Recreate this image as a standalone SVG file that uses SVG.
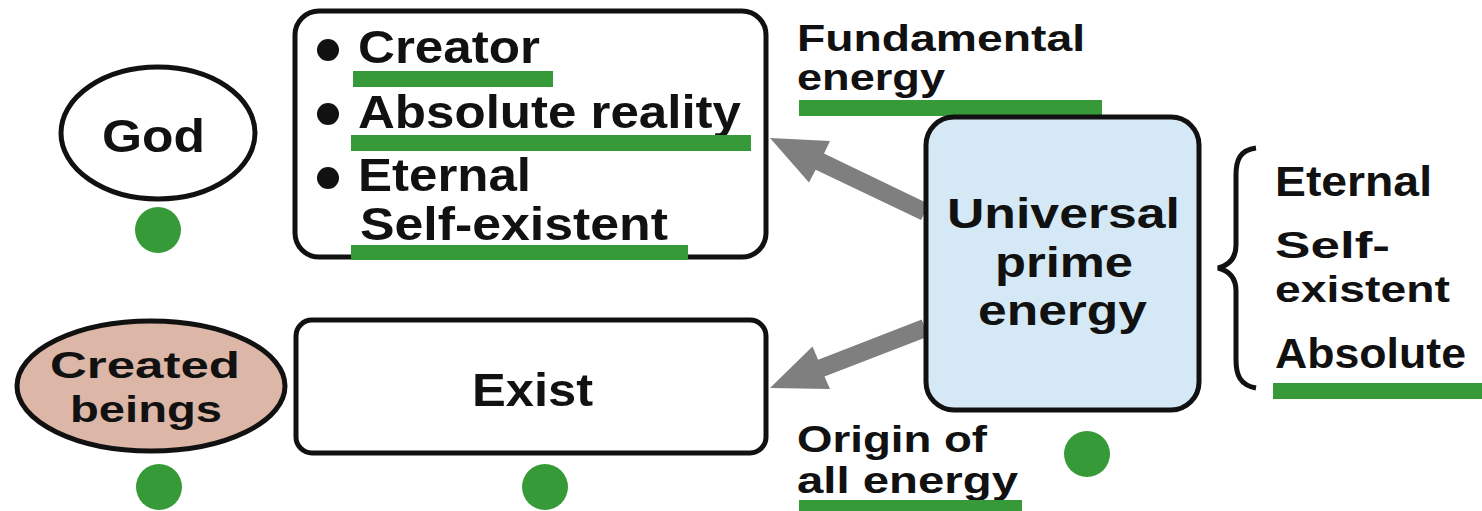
<svg xmlns="http://www.w3.org/2000/svg" width="1482" height="511" viewBox="0 0 1482 511">
<style>
text{font-family:"Liberation Sans",Arial,sans-serif;font-weight:bold;fill:#111;}
.t{font-size:46px;}
.m{font-size:43px;}
.s{font-size:37px;}
.outline{stroke:#111;stroke-width:5;}
.ul{fill:#359a37;}
.dot{fill:#359a37;}
.arrow{fill:#7f7f7f;}
</style>
<rect width="1482" height="511" fill="#fff"/>
<g id="connectors">
<polygon class="arrow" points="770,138 830,141 824,153.6 928.9,203.9 921.1,220.1 815.7,169.8 809,182.5"/>
<polygon class="arrow" points="770,388 812.5,346.5 818.1,359.7 921.8,319.6 928.2,336.4 824.5,376.5 830,389"/>
</g>
<g id="god">
<ellipse class="outline" cx="158" cy="133" rx="97" ry="66" fill="#fff"/>
<text class="t" x="102" y="152" textLength="103" lengthAdjust="spacingAndGlyphs">God</text>
<circle class="dot" cx="158" cy="230" r="23"/>
</g>
<g id="attributes">
<rect class="outline" x="295" y="11" width="471" height="246" rx="24" fill="#fff"/>
<circle cx="328" cy="50" r="11" fill="#111"/>
<circle cx="328" cy="114" r="11" fill="#111"/>
<circle cx="328" cy="178" r="11" fill="#111"/>
<text class="t" x="358" y="63" textLength="182" lengthAdjust="spacingAndGlyphs">Creator</text>
<rect class="ul" x="353" y="71" width="200" height="16"/>
<text class="t" x="358" y="128" textLength="383" lengthAdjust="spacingAndGlyphs">Absolute reality</text>
<rect class="ul" x="351" y="135" width="400" height="16"/>
<text class="t" x="358" y="191" textLength="173" lengthAdjust="spacingAndGlyphs" font-size="44">Eternal</text>
<text class="t" x="360" y="240" textLength="308" lengthAdjust="spacingAndGlyphs" font-size="44">Self-existent</text>
<rect class="ul" x="351" y="245" width="337" height="15"/>
</g>
<g id="fundamental">
<text class="s" x="797" y="51" textLength="288" lengthAdjust="spacingAndGlyphs" font-size="35">Fundamental</text>
<text class="s" x="797" y="90" textLength="148" lengthAdjust="spacingAndGlyphs" font-size="35">energy</text>
<rect class="ul" x="799" y="100" width="303" height="16"/>
</g>
<g id="universal">
<rect class="outline" x="926" y="117" width="273" height="293" rx="28" fill="#d4e9f5"/>
<text class="m" x="947" y="228" textLength="233" lengthAdjust="spacingAndGlyphs">Universal</text>
<text class="m" x="995" y="277" textLength="138" lengthAdjust="spacingAndGlyphs">prime</text>
<text class="m" x="978" y="325" textLength="169" lengthAdjust="spacingAndGlyphs">energy</text>
<circle class="dot" cx="1087" cy="454" r="23"/>
</g>
<g id="properties">
<path d="M1256,148 C1240,150 1236,160 1236,175 L1236,245 C1236,258 1230,265 1218,268 C1230,271 1236,278 1236,291 L1236,360 C1236,375 1240,385 1256,388" fill="none" stroke="#111" stroke-width="5"/>
<text class="m" x="1275" y="196" textLength="157" lengthAdjust="spacingAndGlyphs">Eternal</text>
<text class="s" x="1275" y="258" textLength="115" lengthAdjust="spacingAndGlyphs" font-size="38">Self-</text>
<text class="s" x="1275" y="302" textLength="175" lengthAdjust="spacingAndGlyphs" font-size="38">existent</text>
<text class="m" x="1275" y="368" textLength="191" lengthAdjust="spacingAndGlyphs">Absolute</text>
<rect class="ul" x="1273" y="383" width="209" height="16"/>
</g>
<g id="origin">
<text class="s" x="797" y="452" textLength="190" lengthAdjust="spacingAndGlyphs" font-size="36">Origin of</text>
<text class="s" x="797" y="493" textLength="221" lengthAdjust="spacingAndGlyphs" font-size="36">all energy</text>
<rect class="ul" x="799" y="500" width="223" height="11"/>
</g>
<g id="exist">
<rect class="outline" x="296" y="320" width="470" height="133" rx="16" fill="#fff"/>
<text class="t" x="472" y="406" textLength="121" lengthAdjust="spacingAndGlyphs" font-size="50">Exist</text>
<circle class="dot" cx="545" cy="487" r="23"/>
</g>
<g id="created">
<ellipse class="outline" cx="151" cy="386" rx="134" ry="65" fill="#dcb7a7"/>
<text class="s" x="50" y="378" textLength="190" lengthAdjust="spacingAndGlyphs" font-size="38">Created</text>
<text class="s" x="70" y="422" textLength="152" lengthAdjust="spacingAndGlyphs" font-size="38">beings</text>
<circle class="dot" cx="159" cy="487" r="23"/>
</g>
</svg>
